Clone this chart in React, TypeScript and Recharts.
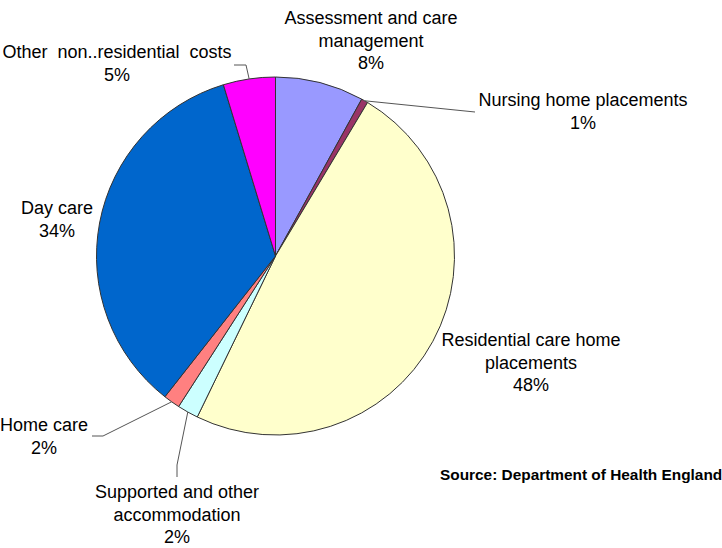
import React from 'react';
import { PieChart, Pie, Cell } from 'recharts';

const categories = [
  'Assessment and care management',
  'Nursing home placements',
  'Residential care home placements',
  'Supported and other accommodation',
  'Home care',
  'Day care',
  'Other non..residential costs',
];
const values = [8.0, 0.6, 48.6, 1.9, 1.5, 34.7, 4.7];
const percentLabels = ['8%', '1%', '48%', '2%', '2%', '34%', '5%'];
const labelLines = [
  ['Assessment and care', 'management', '8%'],
  ['Nursing home placements', '1%'],
  ['Residential care home', 'placements', '48%'],
  ['Supported and other', 'accommodation', '2%'],
  ['Home care', '2%'],
  ['Day care', '34%'],
  ['Other  non..residential  costs', '5%'],
];
const colors = ['#9999FF', '#993366', '#FFFFCC', '#CCFFFF', '#FF8080', '#0066CC', '#FF00FF'];

// label layout: text centre x, first line centre y, leader elbow/end points (if any)
const labelLayout: { x: number; y: number; leader?: number[][] }[] = [
  { x: 371, y: 18 },
  { x: 583, y: 100, leader: [[475, 112]] },
  { x: 531, y: 340 },
  { x: 177, y: 492, leader: [[177, 465], [177, 477]] },
  { x: 44, y: 425, leader: [[103, 436], [92, 436]] },
  { x: 57, y: 208 },
  { x: 117, y: 52, leader: [[246, 65], [234, 65]] },
];

const data = categories.map((name, i) => ({ name, value: values[i], pct: percentLabels[i] }));

const RAD = Math.PI / 180;
const FONT = '"Liberation Sans", Arial, sans-serif';

const renderLabel = (props: any) => {
  const { cx, cy, outerRadius, midAngle, index } = props;
  const lay = labelLayout[index];
  const lines = labelLines[index];
  const sx = cx + outerRadius * Math.cos(-midAngle * RAD);
  const sy = cy + outerRadius * Math.sin(-midAngle * RAD);
  return (
    <g key={`lbl-${index}`}>
      {lay.leader && (
        <polyline
          points={[[sx, sy], ...lay.leader].map((p) => p.join(',')).join(' ')}
          fill="none"
          stroke="#555"
          strokeWidth={1}
        />
      )}
      {lines.map((t, j) => (
        <text
          key={j}
          x={lay.x}
          y={lay.y + j * 22.5}
          textAnchor="middle"
          dominantBaseline="central"
          fontFamily={FONT}
          fontSize={18}
          fill="#000"
          style={{ whiteSpace: 'pre' }}
        >
          {t}
        </text>
      ))}
    </g>
  );
};

export default function App() {
  return (
    <div style={{ position: 'absolute', left: 0, top: 0, background: '#fff' }}>
      <PieChart width={722} height={548} margin={{ top: 0, right: 0, bottom: 0, left: 0 }}>
        <Pie
          data={data}
          dataKey="value"
          nameKey="name"
          cx={275.5}
          cy={256}
          outerRadius={179}
          startAngle={90}
          endAngle={-270}
          stroke="#333"
          strokeWidth={1}
          label={renderLabel}
          labelLine={false}
          isAnimationActive={false}
        >
          {data.map((d, i) => (
            <Cell key={d.name} fill={colors[i]} />
          ))}
        </Pie>
        <text
          x={440}
          y={474}
          dominantBaseline="central"
          fontFamily={FONT}
          fontSize={15.4}
          fontWeight="bold"
          fill="#000"
        >
          Source: Department of Health England
        </text>
      </PieChart>
    </div>
  );
}
